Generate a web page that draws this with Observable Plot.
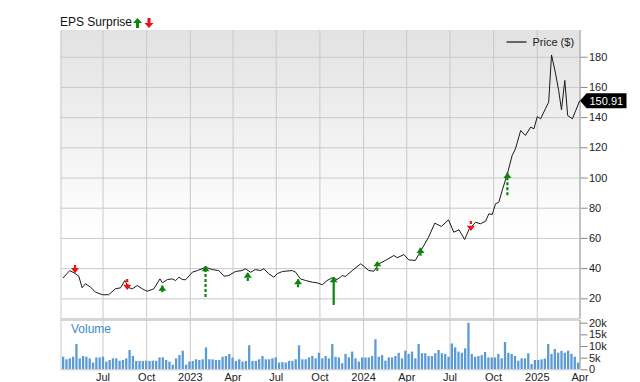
<!DOCTYPE html>
<html><head><meta charset="utf-8">
<script src="https://cdn.jsdelivr.net/npm/d3@7"></script>
<script src="https://cdn.jsdelivr.net/npm/@observablehq/plot@0.6"></script>
<style>
body{margin:0;background:#fff;font-family:"Liberation Sans",Arial,sans-serif;}
#wrap{position:relative;width:640px;height:382px;overflow:hidden;background:#fff;}
#price{position:absolute;left:0;top:0;}
#vol{position:absolute;left:0;top:320px;}
#title{position:absolute;left:60px;top:15px;font-size:12px;line-height:15px;color:#111;display:flex;align-items:center;white-space:nowrap;}
#title svg{margin-left:1px;}
</style></head><body>
<div id="wrap">
  <div id="price"></div>
  <div id="vol"></div>
  <div id="title"><span>EPS Surprise</span><svg width="21" height="10" viewBox="0 0 21 10"><polygon points="4.5,0 9,5 6,5 6,10 3,10 3,5 0,5" fill="#0a8a0a"/><polygon points="16,10 20.5,5 17.5,5 17.5,0 14.5,0 14.5,5 11.5,5" fill="#ee1111"/></svg></div>
</div>
<script>
// ---------- data ----------
const priceDates = ["2022-04-08","2022-04-22","2022-05-01","2022-05-11","2022-05-18","2022-05-25","2022-06-05","2022-06-15","2022-06-30","2022-07-13","2022-07-27","2022-08-07","2022-08-16","2022-08-25","2022-09-01","2022-09-11","2022-09-22","2022-10-02","2022-10-16","2022-10-29","2022-11-03","2022-11-14","2022-11-24","2022-12-01","2022-12-08","2022-12-15","2022-12-22","2023-01-05","2023-01-16","2023-02-02","2023-02-16","2023-03-02","2023-03-13","2023-03-23","2023-04-06","2023-04-20","2023-04-27","2023-05-08","2023-05-18","2023-05-29","2023-06-05","2023-06-15","2023-06-26","2023-07-03","2023-07-14","2023-08-04","2023-08-11","2023-08-21","2023-09-01","2023-09-15","2023-09-25","2023-10-06","2023-10-16","2023-10-27","2023-11-06","2023-11-13","2023-11-17","2023-11-24","2023-12-08","2023-12-26","2024-01-02","2024-01-12","2024-01-23","2024-02-02","2024-02-16","2024-03-05","2024-03-12","2024-03-26","2024-04-05","2024-04-19","2024-05-03","2024-05-17","2024-05-30","2024-06-13","2024-06-28","2024-07-09","2024-07-20","2024-08-01","2024-08-10","2024-08-24","2024-09-03","2024-09-14","2024-09-21","2024-09-28","2024-10-05","2024-10-12","2024-10-19","2024-10-30","2024-11-09","2024-11-16","2024-11-27","2024-12-07","2024-12-18","2024-12-25","2025-01-01","2025-01-08","2025-01-18","2025-01-25","2025-01-31","2025-02-08","2025-02-15","2025-02-21","2025-02-28","2025-03-06","2025-03-16","2025-03-23","2025-03-31"];
const priceValues = [33.9,38.7,37.2,35.0,27.3,30.0,27.7,24.4,22.7,22.7,26.6,27.3,32.1,27.3,26.6,28.8,26.6,25.0,26.6,33.2,30.6,32.8,33.2,32.1,34.3,32.8,32.6,37.6,38.7,40.9,39.4,38.7,35.0,35.4,38.1,38.7,39.9,37.6,39.4,38.7,39.9,36.6,34.3,36.6,38.1,38.7,37.6,33.2,32.1,31.0,30.6,29.3,32.1,33.9,32.8,34.3,35.4,34.8,38.7,43.2,41.4,38.7,38.3,43.2,45.4,48.7,47.2,49.3,45.8,45.4,53.1,60.8,70.1,67.9,72.3,64.1,65.7,59.3,65.9,70.7,69.7,71.4,76.3,75.8,82.9,84.0,91.7,102.8,114.9,119.3,131.5,128.2,133.7,132.6,140.7,139.2,145.8,150.2,181.5,170.0,158.0,145.2,164.6,141.4,139.2,144.7,150.91];
const lastPrice = 150.91;

// weekly volume (thousands of shares), first week ending 2022-04-08
const volumeStart = "2022-04-08";
const volumeK = [5.4,4.3,4.7,5.4,10.9,4.7,5.7,5.4,4.7,2.9,5.1,5.1,5.4,3.3,4.0,4.7,4.7,3.7,4.0,4.7,8.3,5.7,3.6,3.6,3.6,3.7,3.6,3.7,3.6,5.1,5.1,4.0,3.3,2.0,4.7,6.1,8.0,2.0,3.3,3.6,4.3,4.0,4.3,9.4,4.3,4.3,4.0,4.0,5.4,5.7,6.6,5.1,3.6,4.3,3.3,3.6,10.3,3.6,3.6,4.3,5.7,4.3,4.3,4.7,5.1,2.9,3.1,2.9,3.6,3.6,4.3,10.3,4.3,4.3,5.1,5.7,4.7,7.1,4.7,5.7,4.7,10.9,5.4,5.1,2.6,6.6,5.1,7.6,4.7,3.3,5.1,5.1,5.1,5.7,12.9,5.4,6.1,3.7,5.1,5.1,5.7,7.1,4.7,8.0,6.6,7.6,4.7,10.9,6.9,6.9,5.7,5.7,6.9,8.3,6.9,6.6,5.4,11.1,9.4,7.6,7.1,9.0,20.0,6.6,5.4,5.7,6.1,7.4,5.1,5.1,5.1,6.6,4.7,11.7,7.1,6.6,5.7,3.7,4.7,4.7,6.9,2.3,4.0,4.0,4.3,4.6,10.9,6.6,8.7,7.1,7.9,7.1,8.0,6.6,5.4,2.9];

// EPS surprise arrows: tail and tip on the price scale
const epsDates = ["2022-05-03","2022-08-21","2022-11-03","2023-02-02","2023-05-02","2023-08-16","2023-10-30","2024-01-30","2024-04-30","2024-08-14","2024-10-30"];
const epsResult = ["miss","miss","beat","beat","beat","beat","beat","beat","beat","miss","beat"];
const epsTail = [42.1,32.8,24.0,20.9,31.5,27.3,15.6,38.3,48.2,71.2,88.2];
const epsTip  = [37.2,26.2,28.5,41.4,37.2,32.8,34.1,44.7,53.5,65.2,103.2];

const xTickDates = ["2022-07-01","2022-10-01","2023-01-01","2023-04-01","2023-07-01","2023-10-01","2024-01-01","2024-04-01","2024-07-01","2024-10-01","2025-01-01","2025-04-01"];
const priceTicks = [20,40,60,80,100,120,140,160,180];
const volumeTicks = [0,5000,10000,15000,20000];

// ---------- tables ----------
const priceData = priceDates.map((d,i)=>({date:new Date(d+"T00:00Z"), price:priceValues[i]}));
const v0 = new Date(volumeStart+"T00:00Z");
const volData = volumeK.map((v,i)=>({date:d3.utcDay.offset(v0, 7*i), vol:v*1000}));
const epsData = epsDates.map((d,i)=>({date:new Date(d+"T00:00Z"), result:epsResult[i], tail:epsTail[i], tip:epsTip[i], solid: d==="2023-10-30"}));
const xTicks = xTickDates.map(d=>new Date(d+"T00:00Z"));
const xDomain = [new Date("2022-04-03T12:00Z"), new Date("2025-04-01T00:00Z")];

const GREEN = "#0a850a", RED = "#f01010", GRID = "#c9c9c9";
const font = "'Liberation Sans', Arial, sans-serif";

// arrow head symbol: tip at the anchor point, pointing up
const arrowHead = {draw(ctx) { ctx.moveTo(0, -0.5); ctx.lineTo(4, 4.8); ctx.lineTo(-4, 4.8); ctx.closePath(); }};

function background(index, scales, values, dims) {
  const g = d3.create("svg:g");
  const lg = g.append("defs").append("linearGradient").attr("id","pbg").attr("x1",0).attr("y1",0).attr("x2",0).attr("y2",1);
  lg.append("stop").attr("offset",0).attr("stop-color","#e2e2e2");
  lg.append("stop").attr("offset",0.7).attr("stop-color","#ffffff");
  g.append("rect").attr("x",dims.marginLeft).attr("y",dims.marginTop)
    .attr("width",dims.width-dims.marginLeft-dims.marginRight)
    .attr("height",dims.height-dims.marginTop-dims.marginBottom)
    .attr("fill","url(#pbg)");
  return g.node();
}
function legend(index, scales, values, dims) {
  const g = d3.create("svg:g");
  const xr = dims.width - dims.marginRight;
  g.append("line").attr("x1",xr-73).attr("x2",xr-53).attr("y1",42).attr("y2",42).attr("stroke","#666").attr("stroke-width",2);
  g.append("text").attr("x",xr-47).attr("y",42).attr("dy","0.35em").attr("text-anchor","start").attr("font-size",11).attr("fill","#222").attr("font-family",font).text("Price ($)");
  return g.node();
}
function lastLabel(index, {y}, values, dims) {
  const g = d3.create("svg:g");
  const xr = dims.width - dims.marginRight;
  const yy = y(lastPrice);
  g.append("path").attr("d",`M${xr+0.5},${yy} L${xr+7},${yy-7.5} H${xr+47} V${yy+7.5} H${xr+7} Z`).attr("fill","#000");
  g.append("text").attr("x",xr+10).attr("y",yy).attr("dy","0.36em").attr("text-anchor","start").attr("font-size",11).attr("fill","#fff").attr("font-family",font).text(lastPrice.toFixed(2));
  return g.node();
}

const priceChart = Plot.plot({
  width: 640, height: 321,
  marginTop: 30, marginBottom: 2, marginLeft: 60.5, marginRight: 60.5,
  style: {background: "transparent", fontFamily: font, fontSize: "11px", color: "#222", overflow: "visible"},
  x: {type: "utc", domain: xDomain, axis: null},
  y: {domain: [6.3, 197.7], axis: null},
  marks: [
    background,
    Plot.gridX({ticks: xTicks, stroke: GRID, strokeOpacity: 1}),
    Plot.gridY({ticks: priceTicks, stroke: GRID, strokeOpacity: 1}),
    Plot.ruleX([xDomain[0]], {stroke: GRID}),
    Plot.ruleX([xDomain[1]], {stroke: "#c2c2c2", strokeWidth: 2}),
    Plot.ruleY([6.3], {stroke: "#d6d6d6", strokeWidth: 3}),
    Plot.axisY({anchor: "right", ticks: priceTicks, tickSize: 7, tickPadding: 2, stroke: "#888", fill: "#222", fontSize: 11, label: null}),
    Plot.line(priceData, {x: "date", y: "price", stroke: "#1a1a1a", strokeWidth: 1}),
    Plot.ruleX(epsData.filter(d=>!d.solid), {x: "date", y1: "tail", y2: "tip", stroke: d=>d.result==="beat"?GREEN:RED, strokeWidth: 2.2, strokeDasharray: "3,2"}),
    Plot.ruleX(epsData.filter(d=>d.solid), {x: "date", y1: "tail", y2: "tip", stroke: GREEN, strokeWidth: 2.2}),
    Plot.dot(epsData.filter(d=>d.result==="beat"), {x: "date", y: "tip", symbol: arrowHead, r: 4, fill: GREEN, stroke: "none"}),
    Plot.dot(epsData.filter(d=>d.result==="miss"), {x: "date", y: "tip", symbol: arrowHead, r: 4, rotate: 180, fill: RED, stroke: "none"}),
    legend,
    lastLabel
  ]
});
document.getElementById("price").append(priceChart);

const volChart = Plot.plot({
  width: 640, height: 62,
  marginTop: 0, marginBottom: 12.7, marginLeft: 60.5, marginRight: 60.5,
  style: {background: "transparent", fontFamily: font, fontSize: "11px", color: "#222", overflow: "visible"},
  x: {type: "utc", domain: xDomain, axis: null},
  y: {domain: [0, 21160], axis: null},
  marks: [
    Plot.gridX({ticks: xTicks, stroke: GRID, strokeOpacity: 1}),
    Plot.ruleX([xDomain[0]], {stroke: GRID}),
    Plot.ruleX([xDomain[1]], {stroke: "#c2c2c2", strokeWidth: 2}),
    Plot.ruleX(volData, {x: "date", y1: 0, y2: "vol", stroke: "#5b9bd5", strokeWidth: 2.3}),
    Plot.ruleY([0], {stroke: GRID}),
    Plot.axisY({anchor: "right", ticks: volumeTicks, tickSize: 7, tickPadding: 2, stroke: "#888", fill: "#222", fontSize: 11, label: null,
      tickFormat: d => d === 0 ? "0" : (d/1000) + "k"}),
    Plot.axisX({ticks: xTicks, tickSize: 0, tickPadding: 3, fill: "#222", fontSize: 11, label: null,
      tickFormat: d => d.getUTCMonth() === 0 ? d3.utcFormat("%Y")(d) : d3.utcFormat("%b")(d)}),
    Plot.text(["Volume"], {frameAnchor: "top-left", dx: 10, dy: 4, fill: "#3a8ad0", fontSize: 12})
  ]
});
document.getElementById("vol").append(volChart);
</script>
</body></html>
